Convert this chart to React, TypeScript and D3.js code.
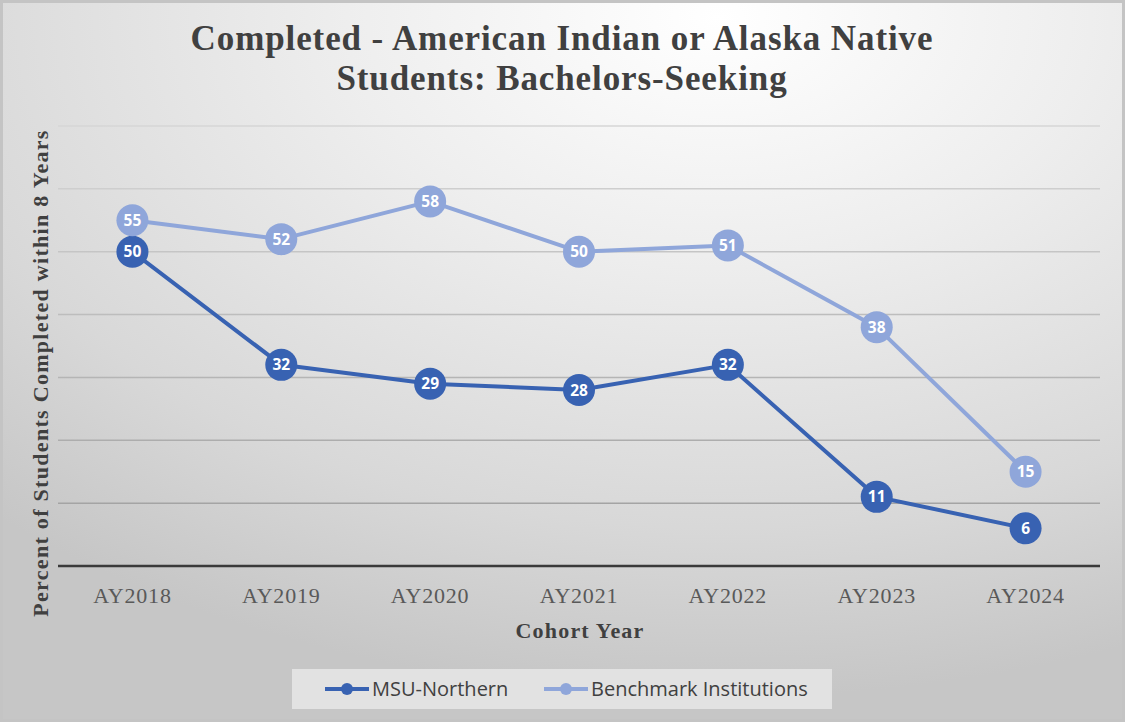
import { useMemo } from 'react';
import { scalePoint, scaleLinear, line, interpolateRgb } from 'd3';

const years = ['AY2018', 'AY2019', 'AY2020', 'AY2021', 'AY2022', 'AY2023', 'AY2024'];
const msuNorthern = [50, 32, 29, 28, 32, 11, 6];
const benchmark = [55, 52, 58, 50, 51, 38, 15];
const gridTicks = [0, 10, 20, 30, 40, 50, 60, 70];

const series = [
  { name: 'MSU-Northern', values: msuNorthern, color: '#3862b2' },
  { name: 'Benchmark Institutions', values: benchmark, color: '#8fa6da' },
];

const W = 1125;
const H = 722;
const margin = { top: 126, right: 25, bottom: 156, left: 58 };

export default function App() {
  const innerW = W - margin.left - margin.right;
  const innerH = H - margin.top - margin.bottom;

  const x = useMemo(() => scalePoint<string>().domain(years).range([0, innerW]).padding(0.5), [innerW]);
  const y = useMemo(() => scaleLinear().domain([0, 70]).range([innerH, 0]), [innerH]);
  const gridColor = interpolateRgb('#d6d6d6', '#9c9c9c');

  const lineGen = line<number>()
    .x((_, i) => x(years[i]) ?? 0)
    .y(d => y(d));

  return (
    <svg width={W} height={H} style={{ position: 'fixed', left: 0, top: 0 }}>
      <defs>
        <radialGradient id="bg" cx="0.64" cy="0.02" r="0.95" fx="0.64" fy="0.02">
          <stop offset="0%" stopColor="#ffffff" />
          <stop offset="35%" stopColor="#eeeeee" />
          <stop offset="75%" stopColor="#d8d8d8" />
          <stop offset="100%" stopColor="#c6c6c6" />
        </radialGradient>
      </defs>
      <rect x={0} y={0} width={W} height={H} fill="#c4c4c4" />
      <rect x={3} y={3} width={W - 6} height={H - 6} fill="url(#bg)" />

      <text x={562} y={50} textAnchor="middle" fontFamily="Liberation Serif" fontWeight="bold" fontSize={35} letterSpacing={0.9} fill="#404040">
        <tspan x={562} dy={0}>Completed - American Indian or Alaska Native</tspan>
        <tspan x={562} dy={40}>Students: Bachelors-Seeking</tspan>
      </text>

      <g transform={`translate(${margin.left},${margin.top})`}>
        {gridTicks.slice(1).map(t => (
          <line key={t} x1={0} x2={innerW} y1={y(t)} y2={y(t)} stroke={gridColor(1 - t / 70)} strokeWidth={1.5} />
        ))}
        <line x1={0} x2={innerW} y1={y(0)} y2={y(0)} stroke="#3a3a3a" strokeWidth={2.5} />

        {years.map(yr => (
          <text key={yr} x={x(yr)} y={innerH + 37} textAnchor="middle" fontFamily="Liberation Serif" fontSize={22} letterSpacing={0.8} fill="#595959">
            {yr}
          </text>
        ))}

        {series.map(s => (
          <g key={s.name}>
            <path d={lineGen(s.values) ?? ''} fill="none" stroke={s.color} strokeWidth={4} strokeLinejoin="round" />
            {s.values.map((v, i) => (
              <g key={i} transform={`translate(${x(years[i])},${y(v)})`}>
                <circle r={16} fill={s.color} />
                <text y={5.5} textAnchor="middle" fontFamily="Open Sans" fontWeight="bold" fontSize={15.5} fill="#ffffff">
                  {v}
                </text>
              </g>
            ))}
          </g>
        ))}
      </g>

      <text x={580} y={638} textAnchor="middle" fontFamily="Liberation Serif" fontWeight="bold" fontSize={22} letterSpacing={1.2} fill="#404040">
        Cohort Year
      </text>

      <text transform="translate(48,373) rotate(-90)" textAnchor="middle" fontFamily="Liberation Serif" fontWeight="bold" fontSize={22} letterSpacing={1.3} fill="#404040">
        Percent of Students Completed within 8 Years
      </text>

      <rect x={292} y={669} width={540} height={40} fill="#e6e6e6" opacity={0.85} />
      {series.map((s, i) => {
        const lx = i === 0 ? 325 : 544;
        return (
          <g key={s.name} transform={`translate(${lx},689)`}>
            <line x1={0} x2={44} y1={0} y2={0} stroke={s.color} strokeWidth={4} />
            <circle cx={22} cy={0} r={6} fill={s.color} />
            <text x={47} y={7} fontFamily="Open Sans" fontSize={20} fill="#404040">
              {s.name}
            </text>
          </g>
        );
      })}
    </svg>
  );
}
